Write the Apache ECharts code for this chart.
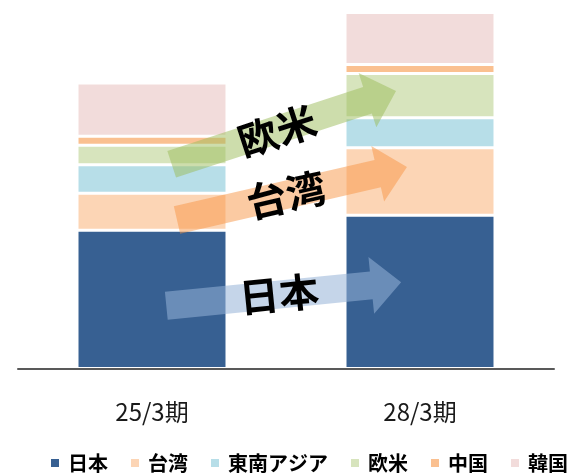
<!DOCTYPE html>
<html>
<head>
<meta charset="utf-8">
<script src="https://cdn.jsdelivr.net/npm/echarts@6/dist/echarts.min.js"></script>
<style>
html,body{margin:0;padding:0;background:#fff;}
#chart{width:571px;height:474px;}
</style>
</head>
<body>
<div id="chart"></div>
<script>
// ---- data ----
var categories = ['25/3期', '28/3期'];
var seriesNames = ['日本', '台湾', '東南アジア', '欧米', '中国', '韓国'];
var japan  = [138, 153];
var taiwan = [37, 67.5];
var seAsia = [28.5, 30];
var europe = [19.5, 44];
var china  = [9, 9];
var korea  = [53, 52];
var arrowLabels = ['欧米', '台湾', '日本'];

// ---- styles ----
var colors = ['#376092', '#FCD5B5', '#B7DEE8', '#D7E4BD', '#FAC090', '#F2DCDB'];
var seriesData = [japan, taiwan, seAsia, europe, china, korea];
var FONT = '"Noto Sans CJK JP", "Noto Sans", sans-serif';

// arrow annotation layout (start point of shaft centre, tilt in degrees)
var arrowLayout = [
  {x: 171.7, y: 164.2, deg: 18.1, fill: 'rgba(155,187,89,0.5)', tx: 277, ty: 131},
  {x: 177,   y: 220,   deg: 13,   fill: 'rgba(247,150,70,0.5)', tx: 286, ty: 195},
  {x: 166.3, y: 305.8, deg: 5.7,  fill: 'rgba(149,179,215,0.55)', tx: 279, ty: 294}
];
var L = 236, HL = 30, SW = 14, HW = 28.5;

var graphics = [];
arrowLayout.forEach(function (a, i) {
  var rot = a.deg * Math.PI / 180;
  graphics.push({
    type: 'polygon',
    x: a.x, y: a.y, rotation: rot,
    z: 100,
    shape: {points: [[0, -SW], [L - HL, -SW], [L - HL, -HW], [L, 0], [L - HL, HW], [L - HL, SW], [0, SW]]},
    style: {fill: a.fill}
  });
  graphics.push({
    type: 'text',
    x: a.tx, y: a.ty, rotation: rot,
    z: 101,
    style: {
      text: arrowLabels[i],
      fontSize: 40, fontWeight: 'bold', fontFamily: FONT,
      fill: '#000', align: 'center', verticalAlign: 'middle'
    }
  });
});

var chart = echarts.init(document.getElementById('chart'), null, {renderer: 'canvas'});
chart.setOption({
  animation: false,
  backgroundColor: '#fff',
  grid: {left: 18, right: 17, top: 0, bottom: 105.5, containLabel: false},
  xAxis: {
    type: 'category',
    data: categories,
    z: 10,
    axisLine: {lineStyle: {color: '#595959', width: 2}},
    axisTick: {show: false},
    axisLabel: {fontSize: 24, color: '#1a1a1a', fontFamily: FONT, margin: 31}
  },
  yAxis: {
    type: 'value', min: 0, max: 368, show: false, splitLine: {show: false}
  },
  legend: {
    data: seriesNames,
    left: 49, top: 453, width: 540, padding: 0,
    itemWidth: 10, itemHeight: 10, itemGap: 21,
    icon: 'rect',
    textStyle: {fontSize: 20, fontWeight: 'bold', color: '#000', fontFamily: FONT, padding: [0, 0, 0, 3]}
  },
  series: seriesNames.map(function (n, i) {
    return {
      name: n, type: 'bar', stack: 'total',
      data: seriesData[i],
      barWidth: 150,
      itemStyle: {color: colors[i], borderColor: '#fff', borderWidth: 1.5},
      emphasis: {disabled: true}
    };
  }),
  graphic: graphics
});
</script>
</body>
</html>
